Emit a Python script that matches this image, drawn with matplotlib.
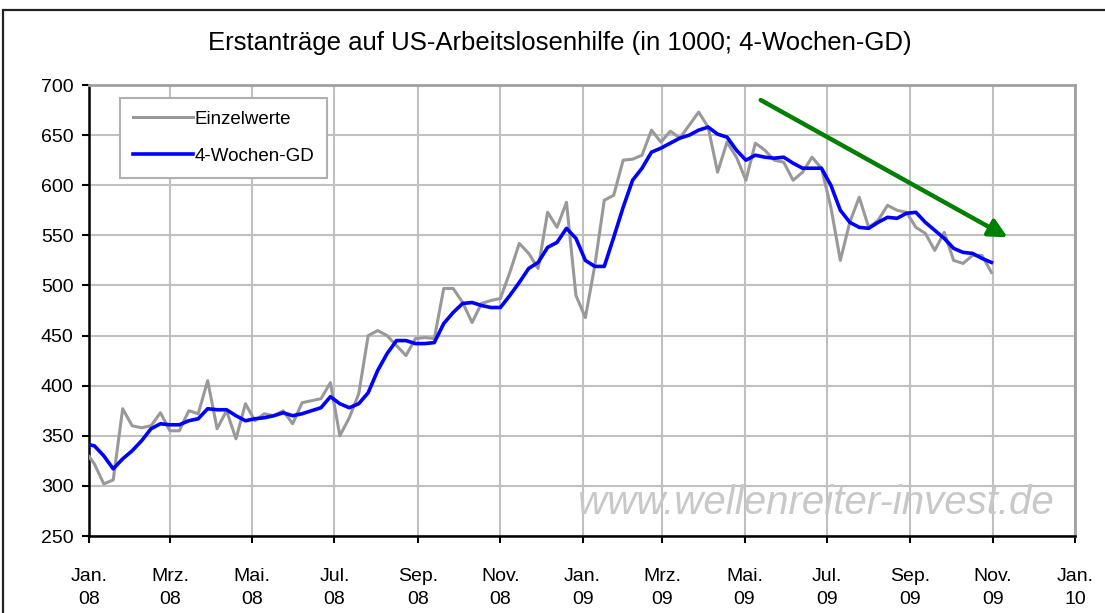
import datetime as dt
import matplotlib
matplotlib.use("Agg")
import matplotlib.pyplot as plt
import matplotlib.dates as mdates
from matplotlib.patches import Rectangle

plt.rcParams['font.family'] = ['Liberation Sans', 'DejaVu Sans']

# weekly initial claims (in 1000), week ending Saturdays from 2007-12-29
einzelwerte = [335,
    322, 302, 306, 377, 360, 358, 360, 373, 355, 355, 375, 372, 405,
    357, 375, 347, 382, 365, 372, 370, 375, 362, 383, 385, 387, 403,
    350, 368, 392, 450, 455, 450, 440, 430, 447, 448, 447, 497, 497,
    483, 463, 482, 485, 487, 513, 542, 532, 517, 573, 558, 583, 490,
    468, 520, 585, 590, 625, 626, 630, 655, 643, 654, 647, 660, 673,
    658, 613, 643, 628, 605, 642, 635, 625, 623, 605, 613, 628, 617,
    578, 525, 563, 588, 558, 565, 580, 575, 573, 558, 552, 535, 553,
    525, 522, 530, 530, 513]
gd4 = [342,
    340, 330, 317, 327, 335, 345, 357, 362, 361, 361, 365, 367, 377,
    376, 376, 370, 365, 367, 368, 370, 373, 370, 372, 375, 378, 389,
    382, 378, 382, 393, 415, 432, 445, 445, 442, 442, 443, 462, 473,
    482, 483, 480, 478, 478, 490, 503, 517, 523, 538, 543, 557, 547,
    525, 519, 519, 548, 578, 605, 617, 633, 637, 642, 647, 650, 655,
    658, 651, 648, 635, 625, 630, 628, 627, 628, 622, 617, 617, 617,
    600, 575, 563, 558, 557, 563, 568, 567, 572, 573, 563, 555, 547,
    537, 533, 532, 527, 523]
first_week = dt.date(2007, 12, 29)
dates = [first_week + dt.timedelta(weeks=i) for i in range(len(einzelwerte))]

tick_dates = [dt.date(2008, 1, 1), dt.date(2008, 3, 1), dt.date(2008, 5, 1),
              dt.date(2008, 7, 1), dt.date(2008, 9, 1), dt.date(2008, 11, 1),
              dt.date(2009, 1, 1), dt.date(2009, 3, 1), dt.date(2009, 5, 1),
              dt.date(2009, 7, 1), dt.date(2009, 9, 1), dt.date(2009, 11, 1),
              dt.date(2010, 1, 1)]
tick_labels = ["Jan.\n08", "Mrz.\n08", "Mai.\n08", "Jul.\n08", "Sep.\n08", "Nov.\n08",
               "Jan.\n09", "Mrz.\n09", "Mai.\n09", "Jul.\n09", "Sep.\n09", "Nov.\n09",
               "Jan.\n10"]
y_ticks = [250, 300, 350, 400, 450, 500, 550, 600, 650, 700]

# trend arrow (start / end)
arrow_start = (dt.date(2009, 5, 13), 685)
arrow_end = (dt.date(2009, 11, 12), 548)

fig = plt.figure(figsize=(11.05, 6.13), dpi=100)
ax = fig.add_axes([0.0805, 0.1256, 0.8924, 0.7357])

ax.plot(dates, einzelwerte, color='#999999', lw=2.2, label='Einzelwerte', zorder=3)
ax.plot(dates, gd4, color='#0000ff', lw=2.6, label='4-Wochen-GD', zorder=4)

ax.annotate('', xy=(mdates.date2num(arrow_end[0]), arrow_end[1]),
            xytext=(mdates.date2num(arrow_start[0]), arrow_start[1]),
            arrowprops=dict(arrowstyle='-|>,head_length=1.1,head_width=0.55',
                            color='#008000', lw=3.2, shrinkA=0, shrinkB=0),
            zorder=5)

ax.set_xlim(mdates.date2num(tick_dates[0]), mdates.date2num(tick_dates[-1]))
ax.set_ylim(250, 700)
ax.set_xticks([mdates.date2num(d) for d in tick_dates])
ax.set_xticklabels(tick_labels, fontsize=14, linespacing=1.45)
ax.set_yticks(y_ticks)
ax.set_yticklabels([str(v) for v in y_ticks], fontsize=14)
ax.tick_params(axis='x', direction='out', length=5, width=1.5, pad=18, color='black')
ax.tick_params(axis='y', direction='out', length=5, width=1.5, pad=6, color='black')

ax.grid(True, color='#c0c0c0', lw=1.5)
ax.set_axisbelow(True)
for side in ['top', 'right']:
    ax.spines[side].set_color('#a0a0a0')
    ax.spines[side].set_linewidth(2)
for side in ['left', 'bottom']:
    ax.spines[side].set_color('black')
    ax.spines[side].set_linewidth(1.8)

leg = ax.legend(loc='upper left', bbox_to_anchor=(0.031, 0.972), fontsize=13.5,
                frameon=True, fancybox=False, edgecolor='#b0b0b0', framealpha=1,
                handlelength=3.2, handletextpad=0.1, labelspacing=1.05,
                borderpad=0.7, borderaxespad=0)
leg.get_frame().set_linewidth(1.5)

ax.text(0.978, 0.073, 'www.wellenreiter-invest.de', transform=ax.transAxes,
        ha='right', va='center', fontsize=29, style='italic', color='#c8c8c8', zorder=2)

fig.text(0.507, 0.93, 'Erstanträge auf US-Arbeitslosenhilfe (in 1000; 4-Wochen-GD)',
         ha='center', va='center', fontsize=18.5)

fig.patches.append(Rectangle((0.0027, -0.1), 1.2, 0.9837 + 0.1, transform=fig.transFigure,
                             fill=False, ec='#222222', lw=1.6))

fig.savefig('out.png', dpi=100)
